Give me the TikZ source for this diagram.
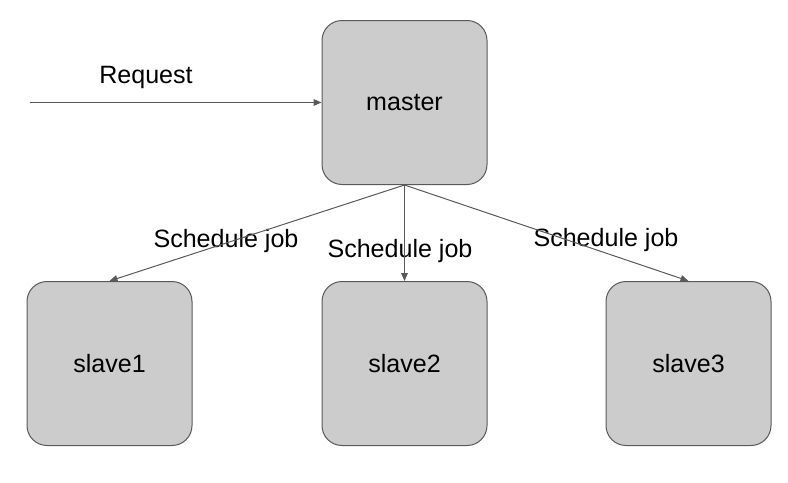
\documentclass[tikz,border=0pt]{standalone}
\usepackage{fontspec}
\setmainfont{Liberation Sans}
\usetikzlibrary{arrows.meta,positioning}
\definecolor{boxfill}{HTML}{CCCCCC}
\definecolor{boxline}{HTML}{595959}
\definecolor{arrline}{HTML}{595959}
\tikzset{
  server/.style={
    draw=boxline, fill=boxfill, rounded corners=15pt,
    line width=0.75pt, minimum width=123.75pt, minimum height=123pt,
    inner sep=0pt, font=\fontsize{18.8}{22}\selectfont
  },
  lbl/.style={inner sep=1pt, font=\fontsize{18.8}{22}\selectfont},
  arrow/.style={-{Triangle[length=6pt,width=5pt]}, line width=0.75pt, draw=arrline}
}
\begin{document}
\begin{tikzpicture}[x=0.75pt, y=-0.75pt]
  \useasboundingbox (0,0) rectangle (788,482);
  \node[server] (master) at (404.5,102.5) {master};
  \node[server, below=72pt of master] (slave2) {slave2};
  \node[server, left=96.75pt of slave2] (slave1) {slave1};
  \node[server, right=88.5pt of slave2] (slave3) {slave3};
  \coordinate (src) at (30,102.5);
  \node[lbl] (req) at (146,77) {Request};
  \node[lbl] (lab1) at (226,241) {Schedule job};
  \node[lbl] (lab2) at (400,251) {Schedule job};
  \node[lbl] (lab3) at (606,240) {Schedule job};
  \draw[arrow] (src) -- (master.west);
  \draw[arrow] (master.south) -- (slave1.north);
  \draw[arrow] (master.south) -- (slave2.north);
  \draw[arrow] (master.south) -- (slave3.north);
\end{tikzpicture}
\end{document}
